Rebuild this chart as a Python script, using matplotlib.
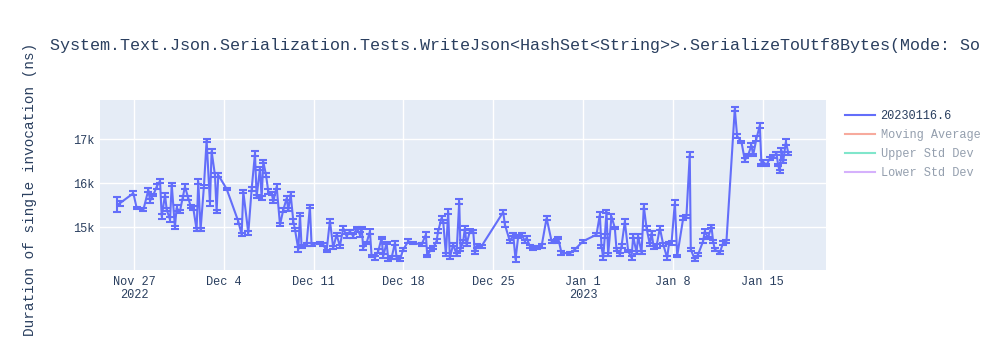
"""
Benchmark history chart: duration of a single invocation per run, with error bars.
"""

import pandas as pd
import matplotlib
matplotlib.use("Agg")
import matplotlib.pyplot as plt
from matplotlib.lines import Line2D

# Only this much of the title fits in the picture
TITLE = ("System.Text.Json.Serialization.Tests.WriteJson<HashSet<String>>"
         ".SerializeToUtf8Bytes(Mode: So")
Y_LABEL = "Duration of single invocation (ns)"

# Run times, in days since 2022-11-27
days = [
    -1.30, -1.09, -0.05, 0.21, 0.73, 1.12, 1.25, 1.51, 1.77, 2.03,
    2.16, 2.42, 2.55, 2.81, 2.94, 3.19, 3.32, 3.58, 3.79, 3.97,
    4.23, 4.42, 4.62, 4.88, 5.01, 5.19, 5.45, 5.66, 5.92, 6.05,
    6.31, 6.44, 6.57, 7.22, 8.13, 8.39, 8.52, 8.91, 9.17, 9.43,
    9.56, 9.82, 9.95, 10.08, 10.29, 10.47, 10.73, 10.86, 11.12, 11.38,
    11.64, 11.90, 12.03, 12.21, 12.42, 12.55, 12.81, 12.94, 13.06, 13.45,
    13.71, 13.84, 14.49, 14.75, 15.01, 15.27, 15.53, 15.79, 16.05, 16.31,
    16.57, 16.83,
    17.09, 17.35, 17.61, 17.74, 17.87, 18.13, 18.39, 18.52, 18.78, 19.04,
    19.30, 19.43, 19.69, 19.82, 20.08, 20.34, 20.47, 20.73, 20.99, 21.38,
    21.77, 22.42, 22.75, 22.86, 23.12, 23.32, 23.58, 23.71, 23.97, 24.10,
    24.31, 24.49, 24.62, 24.88, 25.14, 25.35, 25.45, 25.66, 25.79, 25.92,
    26.18, 26.44, 26.57, 26.70, 27.09, 28.78, 28.91, 29.30, 29.56, 29.74,
    29.95, 30.21, 30.47, 30.60, 30.86, 31.12, 31.38, 31.77, 32.16, 32.55,
    32.94, 33.06, 33.32, 33.97, 34.36,
    35.01, 36.05, 36.31, 36.44, 36.57, 36.70, 36.83, 36.96, 37.22, 37.48,
    37.61, 37.87, 38.00, 38.26, 38.52, 38.78, 38.91, 39.17, 39.30, 39.56,
    39.74, 39.95, 40.21, 40.34, 40.52, 40.73, 40.99, 41.25, 41.56, 41.71,
    41.90, 42.16, 42.34, 42.81, 43.06, 43.32, 43.40, 43.71, 43.97, 44.36,
    44.49, 44.75, 45.01, 45.14, 45.27, 45.66, 45.92, 46.18, 46.83, 47.01,
    47.35, 47.61, 47.87, 48.13, 48.26, 48.52, 48.78, 48.91, 49.04, 49.30,
    49.56, 49.82, 50.08, 50.21, 50.34, 50.47, 50.60, 50.81, 51.01,
]

# Duration (ns)
durations = [
    15511, 15549, 15774, 15436, 15398, 15850, 15602, 15737, 15925, 16053,
    15248, 15737, 15398, 15173, 15977, 15000, 15436, 15361, 15662, 15925,
    15662, 15474, 15436, 14947, 16038, 14947, 15925, 16978, 15549, 16729,
    16188, 15361, 16188, 15872, 15135, 14834, 15812, 14872, 15865, 16677,
    15699, 16338, 15662, 16489, 16188, 15812, 15774, 15586, 15925, 15060,
    15398, 15662, 15398, 15752, 15135, 14947, 14496, 15286, 14571, 14609,
    15474, 14609, 14646, 14609, 14458, 15150, 14534, 14834, 14571, 14985,
    14797, 14910,
    14797, 14985, 14834, 14985, 14534, 14646, 14910, 14346, 14308, 14458,
    14759, 14346, 14646, 14270, 14308, 14646, 14308, 14270, 14496, 14684,
    14646, 14609, 14834, 14346, 14496, 14534, 14684, 14910, 15210, 15135,
    14383, 15361, 14308, 14609, 14383, 15586, 14496, 14684, 14985, 14609,
    14910, 14910, 14421, 14571, 14571, 15346, 15060, 14684, 14834, 14270,
    14797, 14834, 14684, 14759, 14571, 14534, 14534, 14571, 15210, 14684,
    14684, 14759, 14421, 14406, 14496,
    14684, 14834, 15286, 14571, 14308, 14797, 15361, 14383, 15248, 14985,
    14496, 14383, 14571, 15135, 14458, 14308, 14797, 14421, 14797, 14421,
    15474, 14985, 14609, 14872, 14534, 14571, 14985, 14609, 14308, 14646,
    14646, 15571, 14346, 15210, 15248, 16654, 14496, 14270, 14383, 14684,
    14910, 14759, 15022, 14684, 14496, 14421, 14646, 14684, 17692, 17075,
    16940, 16526, 16639, 16865, 16639, 17015, 17316, 16414, 16489, 16414,
    16564, 16602, 16677, 16414, 16263, 16752, 16489, 16940, 16677,
]

# Half-width of each error bar (ns)
errors = [
    170, 60, 40, 30, 30, 50, 40, 30, 50, 40,
    60, 40, 30, 50, 40, 30, 60, 30, 40, 50,
    40, 30, 50, 30, 60, 30, 40, 30, 60, 50,
    40, 40, 50, 30, 60, 40, 30, 50, 40, 60,
    30, 40, 50, 30, 40, 50, 30, 40, 60, 30,
    40, 50, 30, 40, 60, 30, 50, 40, 30, 40,
    40, 30, 30, 40, 30, 50, 30, 40, 30, 50,
    40, 30,
    40, 30, 50, 30, 40, 30, 60, 30, 40, 50,
    30, 40, 30, 40, 30, 50, 30, 40, 30, 40,
    30, 40, 60, 30, 40, 30, 40, 50, 40, 30,
    40, 60, 30, 40, 30, 50, 40, 30, 40, 30,
    50, 40, 30, 40, 30, 40, 50, 30, 40, 60,
    30, 40, 30, 40, 30, 40, 30, 40, 50, 30,
    40, 30, 40, 30, 40,
    30, 40, 60, 30, 40, 50, 30, 40, 50, 30,
    40, 30, 40, 50, 30, 40, 50, 30, 40, 30,
    60, 40, 30, 40, 30, 40, 50, 30, 40, 30,
    40, 60, 30, 50, 40, 60, 30, 40, 30, 40,
    50, 30, 40, 30, 40, 30, 40, 30, 40, 50,
    30, 40, 30, 40, 30, 50, 60, 30, 40, 30,
    40, 30, 40, 30, 40, 50, 30, 60, 40,
]

x_ticks = ["2022-11-27", "2022-12-04", "2022-12-11", "2022-12-18",
           "2022-12-25", "2023-01-01", "2023-01-08", "2023-01-15"]
x_tick_labels = ["Nov 27\n2022", "Dec 4", "Dec 11", "Dec 18",
                 "Dec 25", "Jan 1\n2023", "Jan 8", "Jan 15"]
y_ticks = [15000, 16000, 17000]
y_tick_labels = ["15k", "16k", "17k"]

legend_labels = ["20230116.6", "Moving Average", "Upper Std Dev", "Lower Std Dev"]
legend_colors = ["#636efa", "#f7aa9d", "#80e6cb", "#d5b1fc"]
legend_text_colors = ["#2a3f5f", "#949fae", "#949fae", "#949fae"]

MONO = "Liberation Mono"
TEXT = "#2a3f5f"


def main():
    base = pd.Timestamp("2022-11-27")
    dates = base + pd.to_timedelta(days, unit="D")

    fig = plt.figure(figsize=(10, 3.5), dpi=100)
    ax = fig.add_axes([0.100, 0.2286, 0.726, 0.4857])
    ax.set_facecolor("#e5ecf6")

    ax.errorbar(dates, durations, yerr=errors, color="#636efa", lw=1.5,
                elinewidth=1.5, capsize=3, capthick=1.5, zorder=3)

    # Axes limits and ticks
    ax.set_xlim(base + pd.Timedelta(days=-2.65), base + pd.Timedelta(days=53.94))
    ax.set_ylim(14030, 17893)
    ax.set_xticks(pd.to_datetime(x_ticks))
    ax.set_xticklabels(x_tick_labels)
    ax.set_yticks(y_ticks)
    ax.set_yticklabels(y_tick_labels)
    ax.tick_params(length=0, labelsize=8.6, labelcolor=TEXT, pad=4)
    for lbl in ax.get_xticklabels() + ax.get_yticklabels():
        lbl.set_fontfamily(MONO)
        lbl.set_linespacing(1.15)
    ax.grid(True, color="white", lw=1)
    ax.set_axisbelow(True)
    for s in ax.spines.values():
        s.set_visible(False)

    fig.text(0.05, 0.869, TITLE, fontsize=12.1, family=MONO, color=TEXT,
             va="center", ha="left")
    fig.text(0.030, 0.459, Y_LABEL, fontsize=10.4, family=MONO, color=TEXT,
             rotation=90, va="center", ha="center")

    handles = [Line2D([0], [0], color=c, lw=1.5) for c in legend_colors]
    leg = ax.legend(handles, legend_labels, loc="upper left",
                    bbox_to_anchor=(1.02, 0.968), frameon=False,
                    prop={"family": MONO, "size": 8.6}, handlelength=2.5,
                    handletextpad=0.45, labelspacing=0.58, borderaxespad=0)
    for t, c in zip(leg.get_texts(), legend_text_colors):
        t.set_color(c)

    fig.savefig("out.png", dpi=100)


if __name__ == "__main__":
    main()
